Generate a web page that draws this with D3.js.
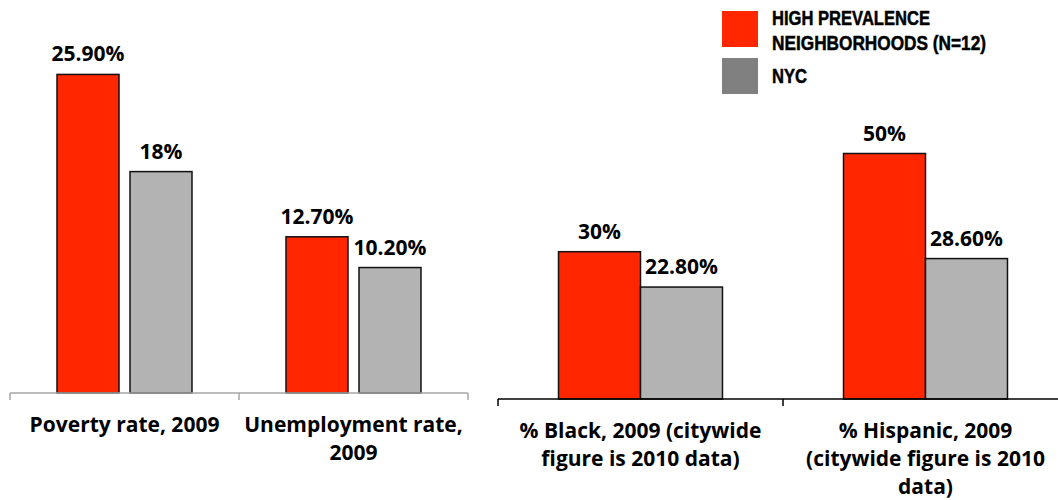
<!DOCTYPE html>
<html>
<head>
<meta charset="utf-8">
<script src="https://cdn.jsdelivr.net/npm/d3@7"></script>
<style>
  html, body { margin: 0; padding: 0; background: #fff; }
  svg { display: block; }
  .val, .cat { font-family: "Open Sans", "DejaVu Sans", sans-serif; font-weight: 700; fill: #000; }
  .leg { font-family: "Liberation Sans Narrow", "Liberation Sans", "Arial Narrow", sans-serif; font-weight: 700; fill: #000; stroke: #000; stroke-width: 0.5px; }
</style>
</head>
<body>
<svg id="chart" width="1058" height="500"></svg>
<script>
// Series
const series = ["High prevalence neighborhoods", "NYC"];
const seriesColors = ["#ff2600", "#b3b3b3"];
const legendColors = ["#ff2600", "#808080"];
const legendLines = [["HIGH PREVALENCE", "NEIGHBORHOODS (N=12)"], ["NYC"]];

// Panel 1: economic indicators
const econCategories = ["Poverty rate, 2009", "Unemployment rate, 2009"];
const econLabelLines = [["Poverty rate, 2009"], ["Unemployment rate,", "2009"]];
const econHigh = [25.9, 12.7];
const econNyc = [18, 10.2];
const econHighLabels = ["25.90%", "12.70%"];
const econNycLabels = ["18%", "10.20%"];

// Panel 2: demographics
const demoCategories = ["% Black", "% Hispanic"];
const demoLabelLines = [["% Black, 2009 (citywide", "figure is 2010 data)"],
                        ["% Hispanic, 2009", "(citywide figure is 2010", "data)"]];
const demoHigh = [30, 50];
const demoNyc = [22.8, 28.6];
const demoHighLabels = ["30%", "50%"];
const demoNycLabels = ["22.80%", "28.60%"];

const svg = d3.select("#chart");

function drawPanel(cfg) {
  const g = svg.append("g");
  const x0 = d3.scaleBand().domain(cfg.categories).range(cfg.xRange).paddingInner(0).paddingOuter(0);
  const x1 = d3.scaleBand().domain(series).range([0, x0.bandwidth()])
    .paddingInner(cfg.innerPad).paddingOuter(cfg.outerPad);
  const y = d3.scaleLinear().domain(cfg.yDomain).range(cfg.yRange);

  const rows = cfg.categories.map((c, i) => ({
    cat: c,
    vals: [
      { s: series[0], v: cfg.high[i], label: cfg.highLabels[i] },
      { s: series[1], v: cfg.nyc[i], label: cfg.nycLabels[i] }
    ]
  }));

  const grp = g.selectAll("g.grp").data(rows).join("g")
    .attr("class", "grp")
    .attr("transform", d => `translate(${x0(d.cat)},0)`);

  grp.selectAll("rect").data(d => d.vals).join("rect")
    .attr("x", d => x1(d.s))
    .attr("width", x1.bandwidth())
    .attr("y", d => y(d.v))
    .attr("height", d => y(0) - y(d.v))
    .attr("fill", (d, i) => seriesColors[i])
    .attr("stroke", "#111")
    .attr("stroke-width", 1.5);

  grp.selectAll("text.val").data(d => d.vals).join("text")
    .attr("class", "val")
    .attr("x", d => x1(d.s) + x1.bandwidth() / 2)
    .attr("y", d => y(d.v) - 13)
    .attr("text-anchor", "middle")
    .style("font-size", "21px")
    .text(d => d.label);

  // category axis with ticks at band boundaries
  const axisY = y(0);
  const bounds = cfg.categories.map(c => x0(c)).concat([x0.range()[1]]);
  g.append("line")
    .attr("x1", cfg.xRange[0]).attr("x2", cfg.xRange[1])
    .attr("y1", axisY).attr("y2", axisY)
    .attr("stroke", cfg.axisColor).attr("stroke-width", 1.5);
  g.selectAll("line.tick").data(bounds).join("line")
    .attr("class", "tick")
    .attr("x1", d => d).attr("x2", d => d)
    .attr("y1", axisY).attr("y2", axisY + 7)
    .attr("stroke", cfg.axisColor).attr("stroke-width", 1.5);

  cfg.categories.forEach((c, i) => {
    const t = g.append("text").attr("class", "cat")
      .attr("text-anchor", "middle")
      .style("font-size", "21px");
    cfg.labelLines[i].forEach((line, j) => {
      t.append("tspan")
        .attr("x", x0(c) + x0.bandwidth() / 2)
        .attr("y", axisY + 39 + j * 28)
        .text(line);
    });
  });
}

drawPanel({
  categories: econCategories, labelLines: econLabelLines,
  high: econHigh, nyc: econNyc, highLabels: econHighLabels, nycLabels: econNycLabels,
  xRange: [10, 468], innerPad: 11 / 73, outerPad: 0.644,
  yDomain: [0, 30], yRange: [393, 24], axisColor: "#a6a6a6"
});

drawPanel({
  categories: demoCategories, labelLines: demoLabelLines,
  high: demoHigh, nyc: demoNyc, highLabels: demoHighLabels, nycLabels: demoNycLabels,
  xRange: [498, 1068], innerPad: 0, outerPad: 0.738,
  yDomain: [0, 60], yRange: [399, 104.4], axisColor: "#000"
});

// Legend
const legendWidths = [[158, 214], [35]];
const legend = svg.append("g").attr("transform", "translate(722,11)");
const legItems = legend.selectAll("g").data(series).join("g")
  .attr("transform", (d, i) => `translate(0,${i * 47})`);
legItems.append("rect")
  .attr("width", 36).attr("height", 36)
  .attr("fill", (d, i) => legendColors[i]);
legItems.each(function(d, i) {
  const t = d3.select(this).append("text").attr("class", "leg").style("font-size", "20.5px");
  legendLines[i].forEach((line, j) => {
    t.append("tspan")
      .attr("x", 50)
      .attr("y", (legendLines[i].length === 1 ? 25 : 14) + j * 25)
      .attr("textLength", legendWidths[i][j])
      .attr("lengthAdjust", "spacingAndGlyphs")
      .text(line);
  });
});
</script>
</body>
</html>
